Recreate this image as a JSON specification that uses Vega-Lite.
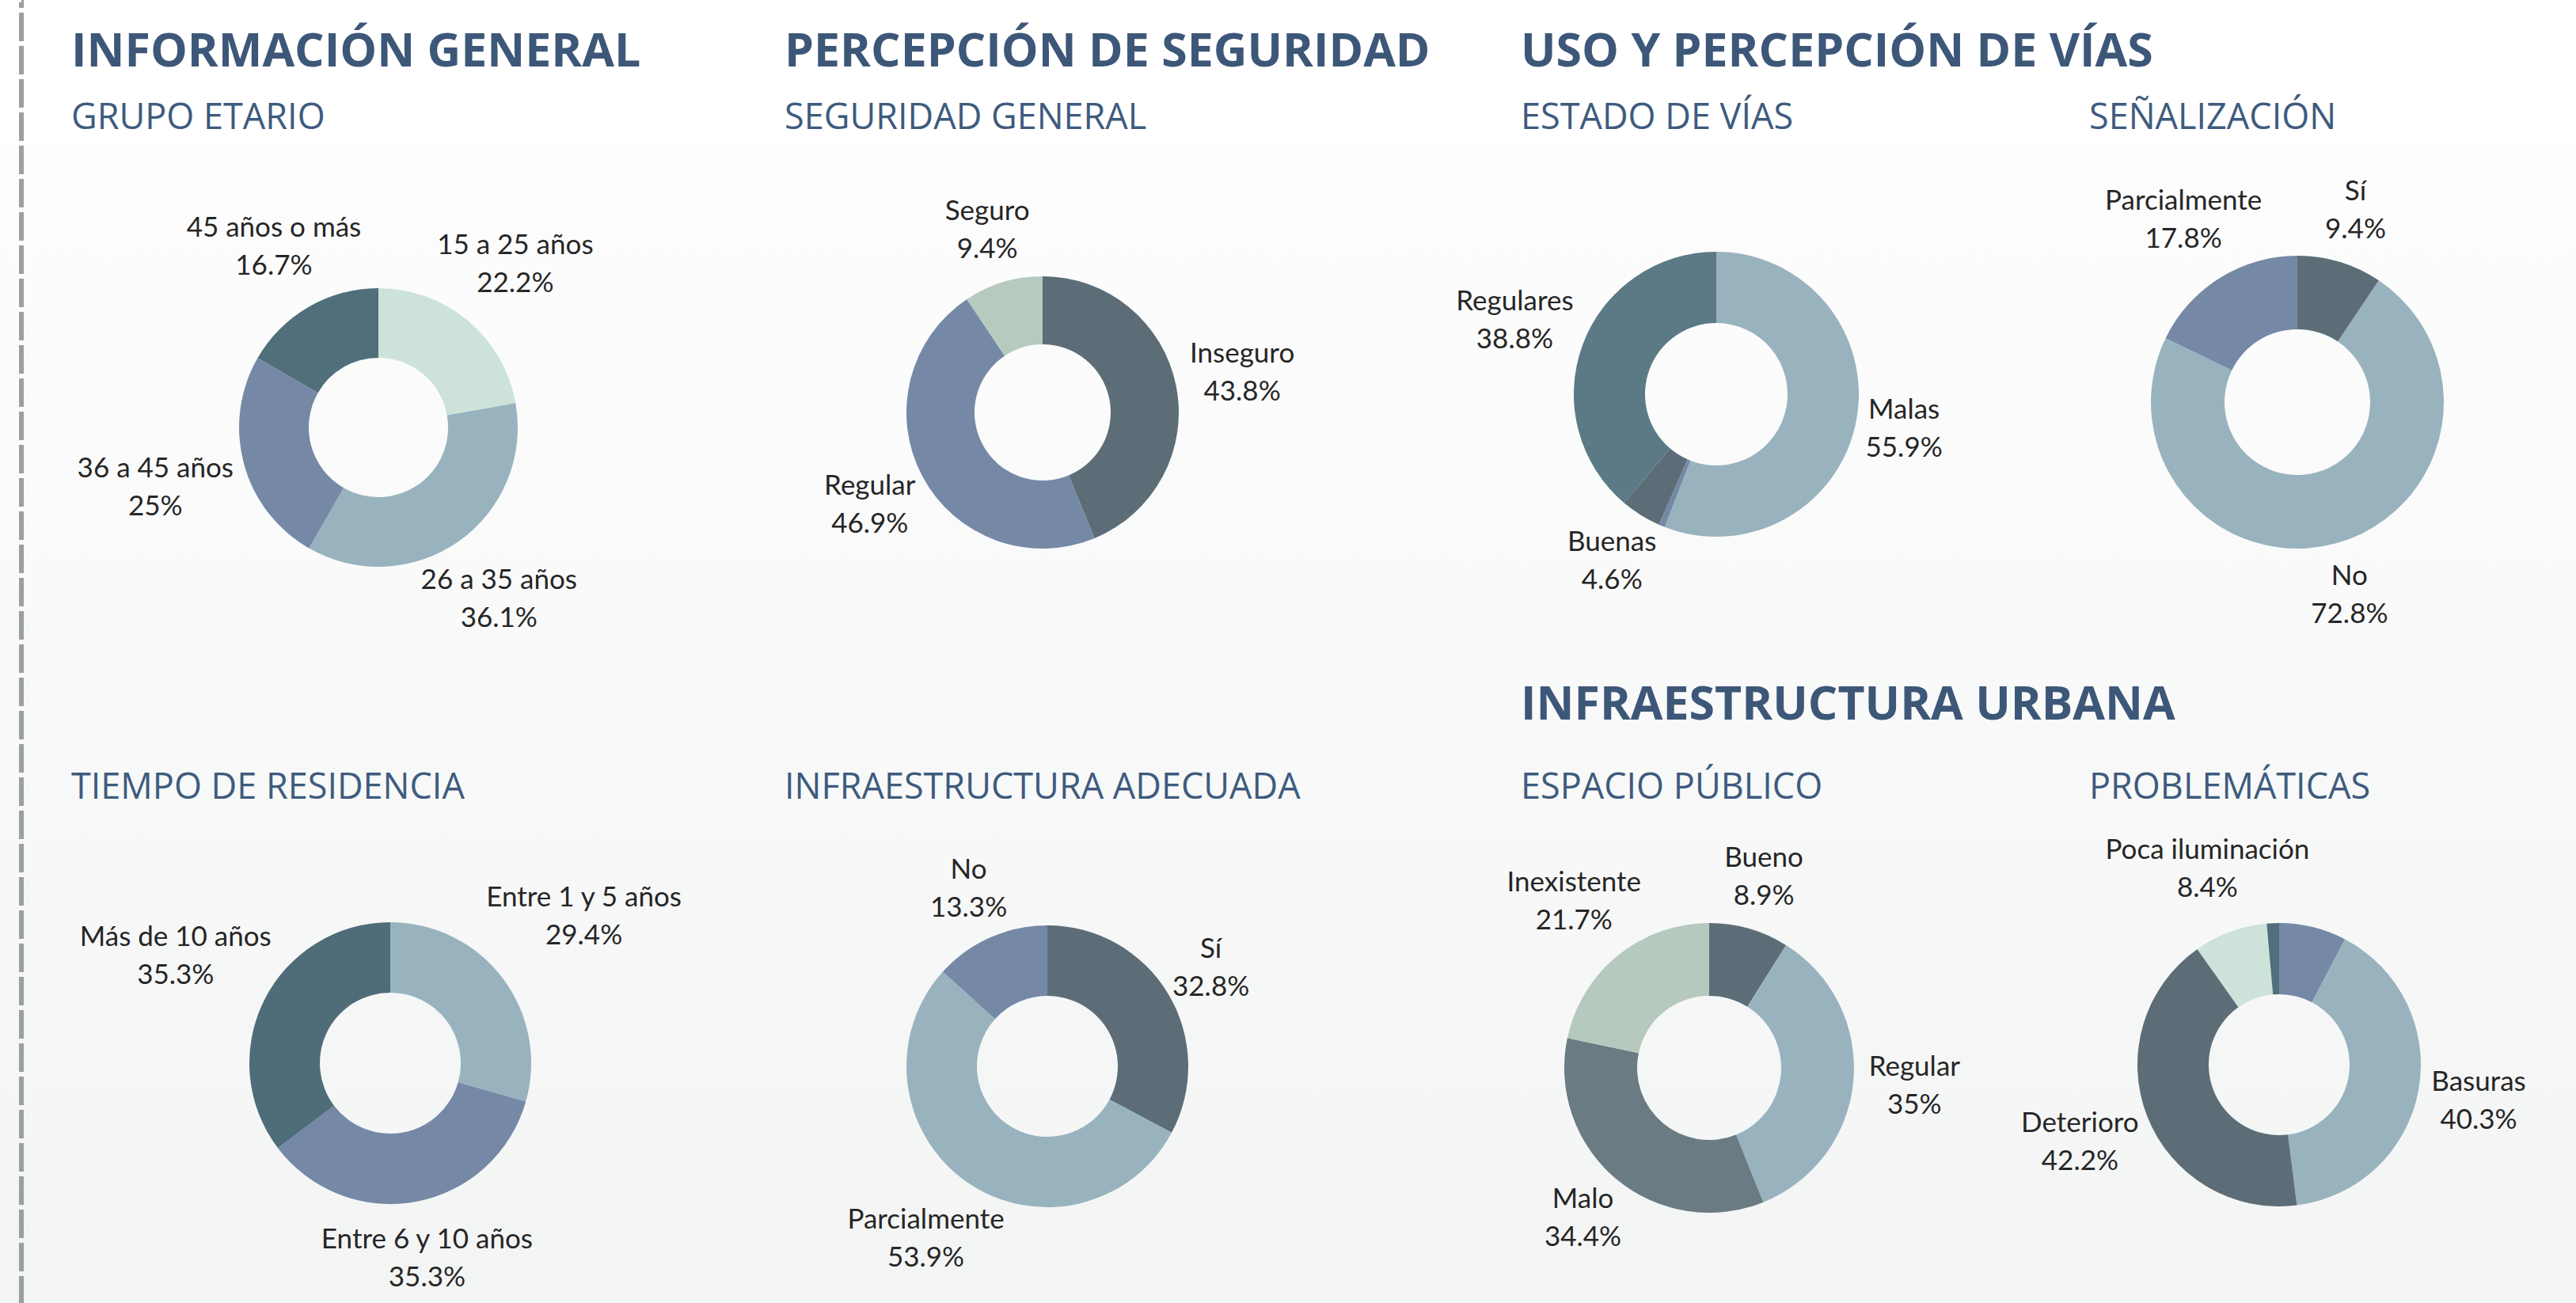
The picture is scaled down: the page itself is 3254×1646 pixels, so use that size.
{
  "$schema": "https://vega.github.io/schema/vega-lite/v6.json",
  "background": "#ffffff",
  "padding": {"left": 0, "top": 0, "right": 0, "bottom": 0},
  "autosize": {"type": "pad"},
  "data": {"values": [
    {"chart": "edad", "i": 1, "cat": "15 a 25 años", "p": 0.222},
    {"chart": "edad", "i": 2, "cat": "26 a 35 años", "p": 0.361},
    {"chart": "edad", "i": 3, "cat": "36 a 45 años", "p": 0.25},
    {"chart": "edad", "i": 4, "cat": "45 años o más", "p": 0.167},
    {"chart": "seg", "i": 1, "cat": "Inseguro", "p": 0.438},
    {"chart": "seg", "i": 2, "cat": "Regular", "p": 0.469},
    {"chart": "seg", "i": 3, "cat": "Seguro", "p": 0.094},
    {"chart": "vias", "i": 1, "cat": "Malas", "p": 0.559},
    {"chart": "vias", "i": 2, "cat": "", "p": 0.007},
    {"chart": "vias", "i": 3, "cat": "Buenas", "p": 0.046},
    {"chart": "vias", "i": 4, "cat": "Regulares", "p": 0.388},
    {"chart": "senal", "i": 1, "cat": "Sí", "p": 0.094},
    {"chart": "senal", "i": 2, "cat": "No", "p": 0.728},
    {"chart": "senal", "i": 3, "cat": "Parcialmente", "p": 0.178},
    {"chart": "resid", "i": 1, "cat": "Entre 1 y 5 años", "p": 0.294},
    {"chart": "resid", "i": 2, "cat": "Entre 6 y 10 años", "p": 0.353},
    {"chart": "resid", "i": 3, "cat": "Más de 10 años", "p": 0.353},
    {"chart": "infra", "i": 1, "cat": "Sí", "p": 0.328},
    {"chart": "infra", "i": 2, "cat": "Parcialmente", "p": 0.539},
    {"chart": "infra", "i": 3, "cat": "No", "p": 0.133},
    {"chart": "esp", "i": 1, "cat": "Bueno", "p": 0.089},
    {"chart": "esp", "i": 2, "cat": "Regular", "p": 0.35},
    {"chart": "esp", "i": 3, "cat": "Malo", "p": 0.344},
    {"chart": "esp", "i": 4, "cat": "Inexistente", "p": 0.217},
    {"chart": "prob", "i": 1, "cat": "", "p": 0.077},
    {"chart": "prob", "i": 2, "cat": "Basuras", "p": 0.403},
    {"chart": "prob", "i": 3, "cat": "Deterioro", "p": 0.422},
    {"chart": "prob", "i": 4, "cat": "Poca iluminación", "p": 0.084},
    {"chart": "prob", "i": 5, "cat": "", "p": 0.014}
  ]},
  "spacing": 27,
  "bounds": "flush",
  "resolve": {"scale": {"color": "independent", "theta": "independent"}},
  "hconcat": [
    {
      "bounds": "flush",
      "vconcat": [
        {
          "width": 3254, "height": 1652,
          "view": {"stroke": null, "fill": {"gradient": "linear", "x1": 0, "y1": 0, "x2": 0, "y2": 1, "stops": [{"offset": 0, "color": "#ffffff"}, {"offset": 0.108, "color": "#ffffff"}, {"offset": 0.112, "color": "#fdfdfd"}, {"offset": 1, "color": "#f3f5f4"}]}},
          "transform": [{"filter": "false"}],
          "mark": {"type": "text", "text": ""},
          "encoding": {}
        }
      ]
    },
    {
      "width": 0.01, "height": 1648,
      "view": {"stroke": "#9aa09d", "strokeWidth": 6, "strokeDash": [36, 6], "strokeDashOffset": 29},
      "transform": [{"filter": "false"}],
      "mark": {"type": "text", "text": ""},
      "encoding": {}
    },
    {
      "spacing": 186,
      "bounds": "flush",
      "resolve": {"scale": {"color": "independent", "theta": "independent"}},
      "vconcat": [
        {
          "width": 1, "height": 1,
          "transform": [{"filter": "false"}],
          "mark": {"type": "text", "text": ""},
          "encoding": {}
        },
        {
          "spacing": 846,
          "bounds": "flush",
          "resolve": {"scale": {"color": "independent", "theta": "independent"}},
          "vconcat": [
            {
              "spacing": 0,
              "bounds": "flush",
              "resolve": {"scale": {"color": "independent", "theta": "independent"}},
              "hconcat": [
                {
                  "width": 846, "height": 700,
                  "title": {"text": "INFORMACIÓN GENERAL", "subtitle": "GRUPO ETARIO", "dx": 35},
                  "transform": [{"filter": "datum.chart == 'edad'"}],
                  "encoding": {
                    "theta": {"field": "p", "type": "quantitative", "stack": true},
                    "order": {"field": "i", "type": "quantitative"},
                    "color": {"field": "i", "type": "nominal", "legend": null, "scale": {"domain": [1, 2, 3, 4], "range": ["#cde3da", "#99b3be", "#7589a6", "#506f7a"]}}
                  },
                  "layer": [
                    {"mark": {"type": "arc", "outerRadius": 176, "innerRadius": 88}},
                    {"mark": {"type": "text", "font": "Lato", "fontSize": 35, "dy": -24, "radius": {"expr": "196 + sqrt(pow(sin(PI*(datum.p_start+datum.p_end))*8.2*max(length(datum.cat),5),2) + pow(cos(PI*(datum.p_start+datum.p_end))*48,2))"}},
                     "encoding": {"color": {"value": "#262626"}, "text": {"field": "cat", "type": "nominal"}}},
                    {"mark": {"type": "text", "font": "Lato", "fontSize": 35, "dy": 24, "radius": {"expr": "196 + sqrt(pow(sin(PI*(datum.p_start+datum.p_end))*8.2*max(length(datum.cat),5),2) + pow(cos(PI*(datum.p_start+datum.p_end))*48,2))"}},
                     "encoding": {"color": {"value": "#262626"}, "text": {"condition": {"test": "datum.cat == ''", "value": ""}, "field": "p", "type": "quantitative", "format": ".1~%"}}}
                  ]
                },
                {
                  "width": 832, "height": 662,
                  "title": {"text": "PERCEPCIÓN DE SEGURIDAD", "subtitle": "SEGURIDAD GENERAL", "dx": 90},
                  "transform": [{"filter": "datum.chart == 'seg'"}],
                  "encoding": {
                    "theta": {"field": "p", "type": "quantitative", "stack": true},
                    "order": {"field": "i", "type": "quantitative"},
                    "color": {"field": "i", "type": "nominal", "legend": null, "scale": {"domain": [1, 2, 3], "range": ["#5d6d77", "#7589a6", "#b7cabf"]}}
                  },
                  "layer": [
                    {"mark": {"type": "arc", "outerRadius": 172, "innerRadius": 86}},
                    {"mark": {"type": "text", "font": "Lato", "fontSize": 35, "dy": -24, "radius": {"expr": "192 + sqrt(pow(sin(PI*(datum.p_start+datum.p_end))*8.2*max(length(datum.cat),5),2) + pow(cos(PI*(datum.p_start+datum.p_end))*48,2))"}},
                     "encoding": {"color": {"value": "#262626"}, "text": {"field": "cat", "type": "nominal"}}},
                    {"mark": {"type": "text", "font": "Lato", "fontSize": 35, "dy": 24, "radius": {"expr": "192 + sqrt(pow(sin(PI*(datum.p_start+datum.p_end))*8.2*max(length(datum.cat),5),2) + pow(cos(PI*(datum.p_start+datum.p_end))*48,2))"}},
                     "encoding": {"color": {"value": "#262626"}, "text": {"condition": {"test": "datum.cat == ''", "value": ""}, "field": "p", "type": "quantitative", "format": ".1~%"}}}
                  ]
                },
                {
                  "width": 870, "height": 616,
                  "title": {"text": "USO Y PERCEPCIÓN DE VÍAS", "subtitle": "ESTADO DE VÍAS", "dx": 188},
                  "transform": [{"filter": "datum.chart == 'vias'"}],
                  "encoding": {
                    "theta": {"field": "p", "type": "quantitative", "stack": true},
                    "order": {"field": "i", "type": "quantitative"},
                    "color": {"field": "i", "type": "nominal", "legend": null, "scale": {"domain": [1, 2, 3, 4], "range": ["#99b3be", "#7589a6", "#5d6d77", "#5b7a85"]}}
                  },
                  "layer": [
                    {"mark": {"type": "arc", "outerRadius": 180, "innerRadius": 90}},
                    {"mark": {"type": "text", "font": "Lato", "fontSize": 35, "dy": -24, "radius": {"expr": "200 + sqrt(pow(sin(PI*(datum.p_start+datum.p_end))*8.2*max(length(datum.cat),5),2) + pow(cos(PI*(datum.p_start+datum.p_end))*48,2))"}},
                     "encoding": {"color": {"value": "#262626"}, "text": {"field": "cat", "type": "nominal"}}},
                    {"mark": {"type": "text", "font": "Lato", "fontSize": 35, "dy": 24, "radius": {"expr": "200 + sqrt(pow(sin(PI*(datum.p_start+datum.p_end))*8.2*max(length(datum.cat),5),2) + pow(cos(PI*(datum.p_start+datum.p_end))*48,2))"}},
                     "encoding": {"color": {"value": "#262626"}, "text": {"condition": {"test": "datum.cat == ''", "value": ""}, "field": "p", "type": "quantitative", "format": ".1~%"}}}
                  ]
                },
                {
                  "width": 598, "height": 636,
                  "title": {"text": " ", "subtitle": "SEÑALIZACIÓN", "dx": 36},
                  "transform": [{"filter": "datum.chart == 'senal'"}],
                  "encoding": {
                    "theta": {"field": "p", "type": "quantitative", "stack": true},
                    "order": {"field": "i", "type": "quantitative"},
                    "color": {"field": "i", "type": "nominal", "legend": null, "scale": {"domain": [1, 2, 3], "range": ["#5d6d77", "#99b3be", "#7589a6"]}}
                  },
                  "layer": [
                    {"mark": {"type": "arc", "outerRadius": 185, "innerRadius": 92}},
                    {"mark": {"type": "text", "font": "Lato", "fontSize": 35, "dy": -24, "radius": {"expr": "205 + sqrt(pow(sin(PI*(datum.p_start+datum.p_end))*8.2*max(length(datum.cat),5),2) + pow(cos(PI*(datum.p_start+datum.p_end))*48,2))"}},
                     "encoding": {"color": {"value": "#262626"}, "text": {"field": "cat", "type": "nominal"}}},
                    {"mark": {"type": "text", "font": "Lato", "fontSize": 35, "dy": 24, "radius": {"expr": "205 + sqrt(pow(sin(PI*(datum.p_start+datum.p_end))*8.2*max(length(datum.cat),5),2) + pow(cos(PI*(datum.p_start+datum.p_end))*48,2))"}},
                     "encoding": {"color": {"value": "#262626"}, "text": {"condition": {"test": "datum.cat == ''", "value": ""}, "field": "p", "type": "quantitative", "format": ".1~%"}}}
                  ]
                }
              ]
            },
            {
              "spacing": 0,
              "bounds": "flush",
              "resolve": {"scale": {"color": "independent", "theta": "independent"}},
              "hconcat": [
                {
                  "width": 876, "height": 614,
                  "title": {"text": " ", "subtitle": "TIEMPO DE RESIDENCIA", "dx": 35},
                  "transform": [{"filter": "datum.chart == 'resid'"}],
                  "encoding": {
                    "theta": {"field": "p", "type": "quantitative", "stack": true},
                    "order": {"field": "i", "type": "quantitative"},
                    "color": {"field": "i", "type": "nominal", "legend": null, "scale": {"domain": [1, 2, 3], "range": ["#99b3be", "#7589a6", "#4f6d78"]}}
                  },
                  "layer": [
                    {"mark": {"type": "arc", "outerRadius": 178, "innerRadius": 89}},
                    {"mark": {"type": "text", "font": "Lato", "fontSize": 35, "dy": -24, "radius": {"expr": "198 + sqrt(pow(sin(PI*(datum.p_start+datum.p_end))*8.2*max(length(datum.cat),5),2) + pow(cos(PI*(datum.p_start+datum.p_end))*48,2))"}},
                     "encoding": {"color": {"value": "#262626"}, "text": {"field": "cat", "type": "nominal"}}},
                    {"mark": {"type": "text", "font": "Lato", "fontSize": 35, "dy": 24, "radius": {"expr": "198 + sqrt(pow(sin(PI*(datum.p_start+datum.p_end))*8.2*max(length(datum.cat),5),2) + pow(cos(PI*(datum.p_start+datum.p_end))*48,2))"}},
                     "encoding": {"color": {"value": "#262626"}, "text": {"condition": {"test": "datum.cat == ''", "value": ""}, "field": "p", "type": "quantitative", "format": ".1~%"}}}
                  ]
                },
                {
                  "width": 784, "height": 622,
                  "title": {"text": " ", "subtitle": "INFRAESTRUCTURA ADECUADA", "dx": 60},
                  "transform": [{"filter": "datum.chart == 'infra'"}],
                  "encoding": {
                    "theta": {"field": "p", "type": "quantitative", "stack": true},
                    "order": {"field": "i", "type": "quantitative"},
                    "color": {"field": "i", "type": "nominal", "legend": null, "scale": {"domain": [1, 2, 3], "range": ["#5d6d77", "#99b3be", "#7589a6"]}}
                  },
                  "layer": [
                    {"mark": {"type": "arc", "outerRadius": 178, "innerRadius": 89}},
                    {"mark": {"type": "text", "font": "Lato", "fontSize": 35, "dy": -24, "radius": {"expr": "198 + sqrt(pow(sin(PI*(datum.p_start+datum.p_end))*8.2*max(length(datum.cat),5),2) + pow(cos(PI*(datum.p_start+datum.p_end))*48,2))"}},
                     "encoding": {"color": {"value": "#262626"}, "text": {"field": "cat", "type": "nominal"}}},
                    {"mark": {"type": "text", "font": "Lato", "fontSize": 35, "dy": 24, "radius": {"expr": "198 + sqrt(pow(sin(PI*(datum.p_start+datum.p_end))*8.2*max(length(datum.cat),5),2) + pow(cos(PI*(datum.p_start+datum.p_end))*48,2))"}},
                     "encoding": {"color": {"value": "#262626"}, "text": {"condition": {"test": "datum.cat == ''", "value": ""}, "field": "p", "type": "quantitative", "format": ".1~%"}}}
                  ]
                },
                {
                  "width": 888, "height": 626,
                  "title": {"text": "INFRAESTRUCTURA URBANA", "subtitle": "ESPACIO PÚBLICO", "dx": 206, "subtitlePadding": 52},
                  "transform": [{"filter": "datum.chart == 'esp'"}],
                  "encoding": {
                    "theta": {"field": "p", "type": "quantitative", "stack": true},
                    "order": {"field": "i", "type": "quantitative"},
                    "color": {"field": "i", "type": "nominal", "legend": null, "scale": {"domain": [1, 2, 3, 4], "range": ["#5d6d77", "#99b3be", "#6a7b84", "#b6c9bf"]}}
                  },
                  "layer": [
                    {"mark": {"type": "arc", "outerRadius": 183, "innerRadius": 91}},
                    {"mark": {"type": "text", "font": "Lato", "fontSize": 35, "dy": -24, "radius": {"expr": "203 + sqrt(pow(sin(PI*(datum.p_start+datum.p_end))*8.2*max(length(datum.cat),5),2) + pow(cos(PI*(datum.p_start+datum.p_end))*48,2))"}},
                     "encoding": {"color": {"value": "#262626"}, "text": {"field": "cat", "type": "nominal"}}},
                    {"mark": {"type": "text", "font": "Lato", "fontSize": 35, "dy": 24, "radius": {"expr": "203 + sqrt(pow(sin(PI*(datum.p_start+datum.p_end))*8.2*max(length(datum.cat),5),2) + pow(cos(PI*(datum.p_start+datum.p_end))*48,2))"}},
                     "encoding": {"color": {"value": "#262626"}, "text": {"condition": {"test": "datum.cat == ''", "value": ""}, "field": "p", "type": "quantitative", "format": ".1~%"}}}
                  ]
                },
                {
                  "width": 552, "height": 618,
                  "title": {"text": " ", "subtitle": "PROBLEMÁTICAS", "dx": 36},
                  "transform": [{"filter": "datum.chart == 'prob'"}],
                  "encoding": {
                    "theta": {"field": "p", "type": "quantitative", "stack": true},
                    "order": {"field": "i", "type": "quantitative"},
                    "color": {"field": "i", "type": "nominal", "legend": null, "scale": {"domain": [1, 2, 3, 4, 5], "range": ["#7589a6", "#99b3be", "#5d6d77", "#cde3da", "#506f7a"]}}
                  },
                  "layer": [
                    {"mark": {"type": "arc", "outerRadius": 179, "innerRadius": 89}},
                    {"mark": {"type": "text", "font": "Lato", "fontSize": 35, "dy": -24, "radius": {"expr": "199 + sqrt(pow(sin(PI*(datum.p_start+datum.p_end))*8.2*max(length(datum.cat),5),2) + pow(cos(PI*(datum.p_start+datum.p_end))*48,2))"}},
                     "encoding": {"color": {"value": "#262626"}, "text": {"field": "cat", "type": "nominal"}}},
                    {"mark": {"type": "text", "font": "Lato", "fontSize": 35, "dy": 24, "radius": {"expr": "199 + sqrt(pow(sin(PI*(datum.p_start+datum.p_end))*8.2*max(length(datum.cat),5),2) + pow(cos(PI*(datum.p_start+datum.p_end))*48,2))"}},
                     "encoding": {"color": {"value": "#262626"}, "text": {"condition": {"test": "datum.cat == ''", "value": ""}, "field": "p", "type": "quantitative", "format": ".1~%"}}}
                  ]
                }
              ]
            }
          ]
        }
      ]
    }
  ],
  "config": {
    "view": {"stroke": null},
    "title": {
      "anchor": "start", "frame": "group", "orient": "top",
      "font": "Open Sans", "fontSize": 59, "fontWeight": "bold", "color": "#3d5778",
      "subtitleFont": "Open Sans", "subtitleFontSize": 45, "subtitleFontWeight": "normal", "subtitleColor": "#3e5b7e",
      "subtitlePadding": 31, "offset": 18
    }
  }
}
